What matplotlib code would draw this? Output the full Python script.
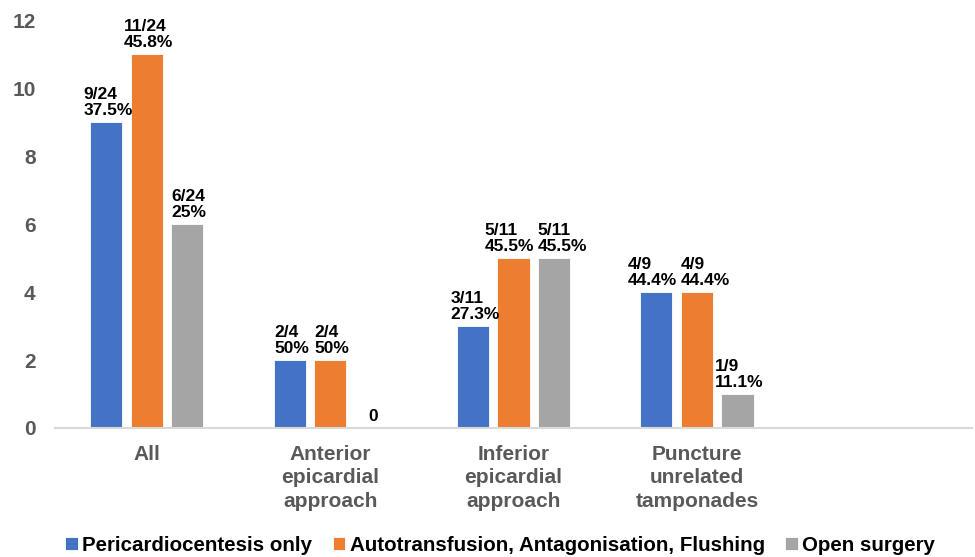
import matplotlib.pyplot as plt
import numpy as np

plt.rcParams["font.family"] = ["Liberation Sans", "DejaVu Sans"]
plt.rcParams["font.weight"] = "bold"

categories = ["All", "Anterior\nepicardial\napproach", "Inferior\nepicardial\napproach",
              "Puncture\nunrelated\ntamponades", ""]
series = ["Pericardiocentesis only", "Autotransfusion, Antagonisation, Flushing", "Open surgery"]
colors = ["#4472C4", "#ED7D31", "#A5A5A5"]

pericardiocentesis = [9, 2, 3, 4]
autotransfusion = [11, 2, 5, 4]
open_surgery = [6, 0, 5, 1]

labels_peri = ["9/24\n37.5%", "2/4\n50%", "3/11\n27.3%", "4/9\n44.4%"]
labels_auto = ["11/24\n45.8%", "2/4\n50%", "5/11\n45.5%", "4/9\n44.4%"]
labels_open = ["6/24\n25%", "0", "5/11\n45.5%", "1/9\n11.1%"]

values = [pericardiocentesis, autotransfusion, open_surgery]
labels = [labels_peri, labels_auto, labels_open]

fig = plt.figure(figsize=(9.75, 5.57), dpi=100)
ax = fig.add_axes([0.0564, 0.2316, 0.9406, 0.7324])

x = np.arange(len(categories))
width = 0.175
step = 0.221

texts = [[] for _ in range(len(pericardiocentesis))]
for i, (vals, name, col, labs) in enumerate(zip(values, series, colors, labels)):
    pos = x[:len(vals)] + (i - 1) * step
    ax.bar(pos, vals, width, color=col, label=name, edgecolor="white", linewidth=0.6)
    for j, (p, val, lab) in enumerate(zip(pos, vals, labs)):
        t = ax.annotate(lab, (p, val), xytext=(1.5, 3), textcoords="offset points",
                        ha="center", va="bottom", multialignment="left",
                        fontsize=12.5, fontweight="bold", color="black", linespacing=1.08)
        texts[j].append(t)

ax.set_xlim(-0.5, 4.5)
ax.set_ylim(0, 12)
ax.set_yticks(range(0, 13, 2))
ax.set_xticks(x)
ax.set_xticklabels(categories, linespacing=1.3)

for s in ["top", "right", "left"]:
    ax.spines[s].set_visible(False)
ax.spines["bottom"].set_color("#D9D9D9")
ax.spines["bottom"].set_linewidth(1.5)
ax.tick_params(axis="both", length=0, colors="#595959")
ax.tick_params(axis="y", labelsize=15, pad=14)
ax.tick_params(axis="x", labelsize=15, pad=12)
for t in ax.get_xticklabels() + ax.get_yticklabels():
    t.set_fontweight("bold")

fig.legend(*ax.get_legend_handles_labels(), loc="center", bbox_to_anchor=(0.513, 0.0215),
           ncol=3, frameon=False, borderpad=0, borderaxespad=0,
           handlelength=0.62, handleheight=0.62, handletextpad=0.2,
           columnspacing=1.0, prop={"weight": "bold", "size": 14.8})

# push apart data labels that collide within a group (like Excel does)
fig.canvas.draw()
r = fig.canvas.get_renderer()
for grp in texts:
    for a, b in zip(grp[:-1], grp[1:]):
        ba, bb = a.get_window_extent(r), b.get_window_extent(r)
        overlap = ba.x1 + 4 - bb.x0
        if overlap > 0 and ba.y0 < bb.y1 and bb.y0 < ba.y1:
            sh = overlap / 2 * 72 / fig.dpi
            xa, ya = a.xyann
            xb, yb = b.xyann
            a.xyann = (xa - sh, ya)
            b.xyann = (xb + sh, yb)

fig.savefig("out.png", dpi=100)
